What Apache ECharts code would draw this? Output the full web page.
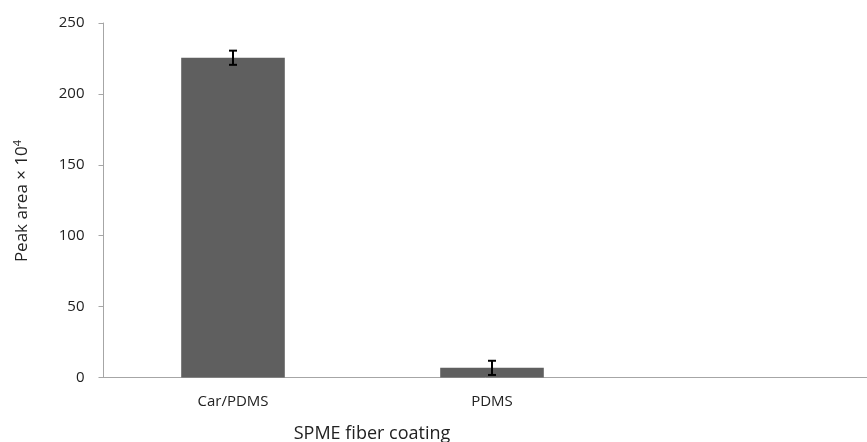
<!DOCTYPE html>
<html><head><meta charset="utf-8">
<script src="https://cdn.jsdelivr.net/npm/echarts@6/dist/echarts.min.js"></script>
<style>html,body{margin:0;padding:0;background:#fff}#c{width:867px;height:442px}</style>
</head><body><div id="c"></div>
<script>
const categories = ['Car/PDMS', 'PDMS', ''];
const peakArea = [225.5, 6.8, null];
const errorSd = [5, 5, null];
const yTicks = [0, 50, 100, 150, 200, 250];

const font = '"Open Sans", Lato, sans-serif';
const chart = echarts.init(document.getElementById('c'), null, {renderer: 'canvas'});
const errData = categories.map((c, i) => peakArea[i] == null ? null : [i, peakArea[i] - errorSd[i], peakArea[i] + errorSd[i]]).filter(d => d);

chart.setOption({
  animation: false,
  grid: {left: 103.5, width: 777, top: 23, bottom: 64.5, containLabel: false, outerBoundsMode: 'none'},
  xAxis: {
    type: 'category', data: categories,
    axisLine: {lineStyle: {color: '#a6a6a6', width: 1}},
    axisTick: {show: false},
    axisLabel: {color: '#222', fontFamily: font, fontSize: 15, margin: 17}
  },
  yAxis: {
    type: 'value', min: yTicks[0], max: yTicks[yTicks.length - 1], interval: 50,
    axisLine: {show: true, lineStyle: {color: '#a6a6a6'}},
    axisTick: {show: true, length: 5, lineStyle: {color: '#a6a6a6'}},
    splitLine: {show: false},
    axisLabel: {color: '#222', fontFamily: font, fontSize: 15, margin: 19}
  },
  series: [{
    type: 'bar', data: peakArea, barWidth: '40%',
    itemStyle: {color: '#5f5f5f'}
  }, {
    type: 'custom', data: errData,
    renderItem: function (params, api) {
      const x = api.value(0);
      const lo = api.coord([x, api.value(1)]);
      const hi = api.coord([x, api.value(2)]);
      const hw = 4;
      const st = {stroke: '#000', lineWidth: 2};
      return {type: 'group', children: [
        {type: 'line', shape: {x1: lo[0], y1: lo[1], x2: hi[0], y2: hi[1]}, style: st},
        {type: 'line', shape: {x1: lo[0] - hw, y1: lo[1], x2: lo[0] + hw, y2: lo[1]}, style: st},
        {type: 'line', shape: {x1: hi[0] - hw, y1: hi[1], x2: hi[0] + hw, y2: hi[1]}, style: st}
      ]};
    },
    z: 5
  }],
  graphic: [
    {type: 'text', x: 372, y: 434, style: {text: 'SPME fiber coating', fontFamily: font, fontSize: 18, fill: '#222', align: 'center', verticalAlign: 'middle'}},
    {type: 'text', x: 22, y: 201, rotation: Math.PI / 2,
      style: {text: 'Peak area × 10{s|4}', fontFamily: font, fontSize: 17, fill: '#222', align: 'center', verticalAlign: 'middle',
        rich: {s: {fontSize: 11, verticalAlign: 'top', padding: [0, 0, 8, 0], fontFamily: font, fill: '#222'}}}}
  ]
});
</script></body></html>
